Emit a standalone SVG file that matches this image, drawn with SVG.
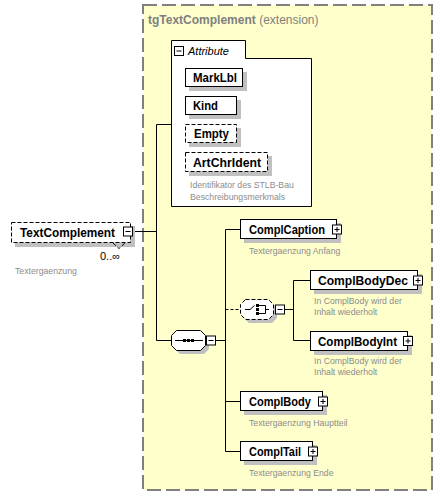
<svg xmlns="http://www.w3.org/2000/svg" width="443" height="498" viewBox="0 0 443 498">
<style>
.bg{fill:#ffffcc;stroke:#808080;stroke-width:2;stroke-dasharray:14 5}
.box{fill:#fff;stroke:#000;stroke-width:1}
.dash{stroke-dasharray:4 2}
.sh{fill:#c0c0c0}
.btn{fill:#fff;stroke:#000;stroke-width:1}
.sym{stroke:#000;stroke-width:1;fill:none}
.ln{stroke:#000;stroke-width:1;fill:none}
.name{font-family:"Liberation Sans",Arial,sans-serif;font-weight:bold;font-size:12px;fill:#000}
.desc{font-family:"Liberation Sans",Arial,sans-serif;font-size:8.7px;fill:#8c8c8c}
.title{font-family:"Liberation Sans",Arial,sans-serif;font-size:12px;fill:#808080}
</style>
<defs>
<g id="plus"><rect class="btn" x="0.5" y="0.5" width="9" height="9"/><path class="sym" d="M2.5,5H7.5M5,2.5V7.5"/></g>
<g id="minus"><rect class="btn" x="0.5" y="0.5" width="9" height="9"/><path class="sym" d="M2.5,5H7.5"/></g>
</defs>
<rect class="bg" x="143" y="5" width="289" height="485"/>
<text class="title" x="148" y="24"><tspan font-weight="bold">tgTextComplement</tspan> (extension)</text>

<g id="connectors">
<path class="ln" d="M133,231.5H156.5M156.5,124.5V340.5M156.5,124.5H171M156.5,340.5H171"/>
<path class="ln" d="M216,340.5H225.5M225.5,229.5V451.5M225.5,229.5H240.5M225.5,401.5H240.5M225.5,451.5H240.5"/>
<path class="ln" d="M225.5,309.5H240" stroke-dasharray="3 2"/>
<path class="ln" d="M285,309.5H293.5M293.5,280.5V340.5M293.5,280.5H310.5M293.5,340.5H310.5"/>
</g>

<g id="TextComplement">
<rect class="sh" x="15" y="226" width="120" height="21"/>
<rect class="box dash" x="11.5" y="222.5" width="119" height="20"/>
<path class="ln dash" d="M113,243L119,248.5L125,243"/>
<text class="name" x="20" y="236.5" textLength="95" lengthAdjust="spacingAndGlyphs">TextComplement</text>
<use href="#minus" x="123" y="226.5"/>
<text x="100" y="260" font-family="Liberation Sans,Arial,sans-serif" font-size="11px" fill="#000">0..∞</text>
<text class="desc" x="15" y="274">Textergaenzung</text>
</g>

<g id="Attribute">
<path class="box" d="M171.5,206.5V40.5H245.5V58.5H311.5V206.5Z"/>
<use href="#minus" x="174" y="46"/>
<text x="188" y="55" font-family="Liberation Sans,Arial,sans-serif" font-size="11px" font-style="italic" fill="#000">Attribute</text>
</g>

<g id="MarkLbl">
<rect class="sh" x="189" y="72" width="58" height="19"/>
<rect class="box" x="185.5" y="68.5" width="57" height="18"/>
<text class="name" x="193" y="82" textLength="44" lengthAdjust="spacingAndGlyphs">MarkLbl</text>
</g>
<g id="Kind">
<rect class="sh" x="189" y="100" width="52" height="19"/>
<rect class="box" x="185.5" y="96.5" width="51" height="18"/>
<text class="name" x="193" y="110" textLength="25" lengthAdjust="spacingAndGlyphs">Kind</text>
</g>
<g id="Empty">
<rect class="sh" x="189" y="128" width="52" height="19"/>
<rect class="box dash" x="185.5" y="124.5" width="51" height="18"/>
<text class="name" x="194" y="138" textLength="35" lengthAdjust="spacingAndGlyphs">Empty</text>
</g>
<g id="ArtChrIdent">
<rect class="sh" x="189" y="156" width="83" height="20"/>
<rect class="box dash" x="185.5" y="152.5" width="82" height="19"/>
<text class="name" x="193" y="166.5" textLength="68" lengthAdjust="spacingAndGlyphs">ArtChrIdent</text>
<text class="desc" x="190" y="188">Identifikator des STLB-Bau</text>
<text class="desc" x="190" y="200">Beschreibungsmerkmals</text>
</g>

<g id="sequence">
<path class="sh" d="M180,334H204L209,339V349L204,354H180L175,349V339Z"/>
<path class="box" d="M176.5,330.5H200.5L205.5,335.5V345.5L200.5,350.5H176.5L171.5,345.5V335.5Z"/>
<path class="ln" d="M175,340.5H203"/>
<rect x="183" y="339" width="3" height="3" fill="#000"/>
<rect x="187" y="339" width="3" height="3" fill="#000"/>
<rect x="191" y="339" width="3" height="3" fill="#000"/>
<use href="#minus" x="206" y="335.5"/>
</g>

<g id="choice">
<path class="sh" d="M249,303H272L277,308V318L272,323H249L244,318V308Z"/>
<path class="box dash" d="M245.5,299.5H268.5L273.5,304.5V314.5L268.5,319.5H245.5L240.5,314.5V304.5Z"/>
<path class="ln" d="M245,309.5H250L254.5,305.5"/>
<rect x="256" y="304" width="3" height="3" fill="#000"/>
<rect x="256" y="308" width="3" height="3" fill="#000"/>
<rect x="256" y="312" width="3" height="3" fill="#000"/>
<path class="ln" d="M259,305.5H265.5V313.5H259M265.5,309.5H269"/>
<use href="#minus" x="275" y="304.5"/>
</g>

<g id="ComplCaption">
<rect class="sh" x="244" y="223" width="97" height="20"/>
<rect class="box" x="240.5" y="219.5" width="96" height="19"/>
<text class="name" x="249" y="234" textLength="76" lengthAdjust="spacingAndGlyphs">ComplCaption</text>
<use href="#plus" x="332" y="224.5"/>
<text class="desc" x="249" y="254">Textergaenzung Anfang</text>
</g>

<g id="ComplBodyDec">
<rect class="sh" x="314" y="274" width="108" height="20"/>
<rect class="box" x="310.5" y="270.5" width="107" height="19"/>
<text class="name" x="318" y="284.5" textLength="90" lengthAdjust="spacingAndGlyphs">ComplBodyDec</text>
<use href="#plus" x="413" y="275.5"/>
<text class="desc" x="314" y="304">In ComplBody wird der</text>
<text class="desc" x="314" y="315">Inhalt wiederholt</text>
</g>

<g id="ComplBodyInt">
<rect class="sh" x="314" y="335" width="98" height="20"/>
<rect class="box" x="310.5" y="331.5" width="97" height="19"/>
<text class="name" x="318" y="345.5" textLength="79" lengthAdjust="spacingAndGlyphs">ComplBodyInt</text>
<use href="#plus" x="403" y="336"/>
<text class="desc" x="314" y="364">In ComplBody wird der</text>
<text class="desc" x="314" y="375">Inhalt wiederholt</text>
</g>

<g id="ComplBody">
<rect class="sh" x="244" y="395" width="83" height="20"/>
<rect class="box" x="240.5" y="391.5" width="82" height="19"/>
<text class="name" x="249" y="406" textLength="62" lengthAdjust="spacingAndGlyphs">ComplBody</text>
<use href="#plus" x="318" y="396.5"/>
<text class="desc" x="249" y="426">Textergaenzung Hauptteil</text>
</g>

<g id="ComplTail">
<rect class="sh" x="244" y="445" width="73" height="20"/>
<rect class="box" x="240.5" y="441.5" width="72" height="19"/>
<text class="name" x="249" y="456" textLength="52" lengthAdjust="spacingAndGlyphs">ComplTail</text>
<use href="#plus" x="308" y="446.5"/>
<text class="desc" x="249" y="476">Textergaenzung Ende</text>
</g>
</svg>
